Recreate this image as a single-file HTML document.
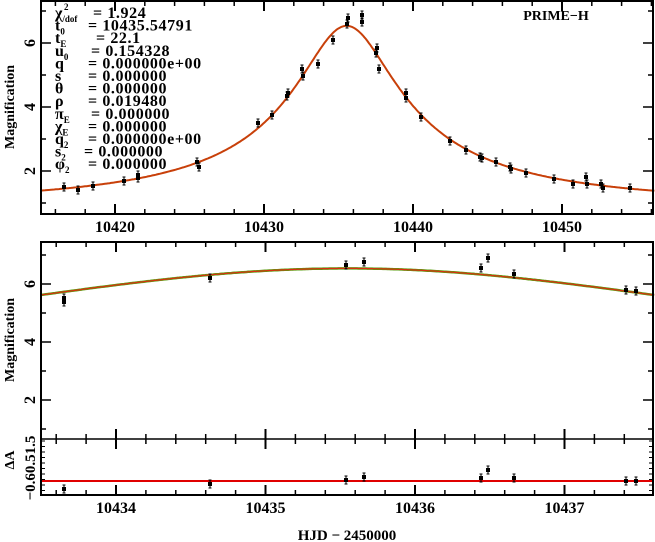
<!DOCTYPE html><html><head><style>body{margin:0;background:#fff}svg{display:block}text{font-family:"Liberation Serif",serif;font-weight:bold;fill:#000}</style></head><body>
<svg id="s" width="655" height="542" xmlns="http://www.w3.org/2000/svg"></svg>
<script>
const s=document.getElementById('s');let h='';
const A=t=>{const u=Math.sqrt(0.154328**2+((t-10435.54791)/22.1)**2);return (u*u+2)/(u*Math.sqrt(u*u+4));};
const L=41,R=653;
const x1=t=>115+(t-10420)*14.9, y1=m=>171-(m-2)*32;
const x2=t=>116+(t-10434)*149.5, y2=m=>284-(m-6)*29;
function curve(xf,yf,t0,t1){let p='';for(let i=0;i<=400;i++){const t=t0+(t1-t0)*i/400;p+=(i?'L':'M')+xf(t).toFixed(1)+','+yf(A(t)).toFixed(1);}return p;}
h+=`<path d="${curve(x1,y1,10415,10456.2)}" fill="none" stroke="#c8400a" stroke-width="2"/>`;
h+=`<path d="${curve(x2,y2,10433.5,10437.6)}" fill="none" stroke="#5a9c10" stroke-width="2.5"/>`;
h+=`<path d="${curve(x2,y2,10433.5,10437.6)}" fill="none" stroke="#d83010" stroke-width="1.2"/>`;
h+=`<line x1="${L}" y1="481" x2="${R}" y2="481" stroke="#e00000" stroke-width="2"/>`;
h+=`<rect x="${L}" y="1" width="${R-L}" height="213" fill="none" stroke="#000" stroke-width="2"/>`;
h+=`<rect x="${L}" y="242" width="${R-L}" height="253" fill="none" stroke="#000" stroke-width="2"/>`;
h+=`<line x1="${L}" y1="439" x2="${R}" y2="439" stroke="#000" stroke-width="1.5"/>`;
for(let t=10416;t<=10456;t+=2){const x=x1(t),big=t%10==0,l=big?10:5;h+=`<line x1="${x}" y1="214" x2="${x}" y2="${214-l}" stroke="#000" stroke-width="${big?2:1.5}"/><line x1="${x}" y1="1" x2="${x}" y2="${1+l}" stroke="#000" stroke-width="${big?2:1.5}"/>`;}
for(let m=1;m<=7;m++){const y=y1(m),l=m%2==0?10:5;h+=`<line x1="${L}" y1="${y}" x2="${L+l}" y2="${y}" stroke="#000" stroke-width="1.5"/><line x1="${R}" y1="${y}" x2="${R-l}" y2="${y}" stroke="#000" stroke-width="1.5"/>`;}
[10420,10430,10440,10450].forEach(t=>h+=`<text x="${x1(t)}" y="232" font-size="16" text-anchor="middle">${t}</text>`);
[2,4,6].forEach(m=>h+=`<text transform="translate(35,${y1(m)}) rotate(-90)" font-size="16" text-anchor="middle">${m}</text>`);
for(let t=10433.6;t<=10437.6;t+=0.2){const tt=Math.round(t*10)/10;const x=x2(tt),big=Math.abs(tt-Math.round(tt))<1e-6,l=big?10:5;
 h+=`<line x1="${x}" y1="242" x2="${x}" y2="${242+l}" stroke="#000" stroke-width="${big?2:1.5}"/><line x1="${x}" y1="439" x2="${x}" y2="${439-l}" stroke="#000" stroke-width="${big?2:1.5}"/><line x1="${x}" y1="439" x2="${x}" y2="${439+l}" stroke="#000" stroke-width="${big?2:1.5}"/><line x1="${x}" y1="495" x2="${x}" y2="${495-l}" stroke="#000" stroke-width="${big?2:1.5}"/>`;}
for(let m=1;m<=7;m++){const y=y2(m),l=m%2==0?10:5;h+=`<line x1="${L}" y1="${y}" x2="${L+l}" y2="${y}" stroke="#000" stroke-width="1.5"/><line x1="${R}" y1="${y}" x2="${R-l}" y2="${y}" stroke="#000" stroke-width="1.5"/>`;}
for(let y=441;y<495;y+=5.5){h+=`<line x1="${L}" y1="${y}" x2="${L+4}" y2="${y}" stroke="#000"/><line x1="${R}" y1="${y}" x2="${R-4}" y2="${y}" stroke="#000"/>`;}
[10434,10435,10436,10437].forEach(t=>h+=`<text x="${x2(t)}" y="513" font-size="16" text-anchor="middle">${t}</text>`);
[2,4,6].forEach(m=>h+=`<text transform="translate(35,${y2(m)}) rotate(-90)" font-size="16" text-anchor="middle">${m}</text>`);
h+=`<text transform="translate(35,468) rotate(-90)" font-size="15" text-anchor="middle">−0.60.51.5</text>`;
h+=`<text transform="translate(14,107) rotate(-90)" font-size="14" text-anchor="middle">Magnification</text>`;
h+=`<text transform="translate(14,340) rotate(-90)" font-size="14" text-anchor="middle">Magnification</text>`;
h+=`<text transform="translate(14,460) rotate(-90)" font-size="14" text-anchor="middle">ΔA</text>`;
h+=`<text x="347" y="540" font-size="15" text-anchor="middle" font-weight="normal">HJD − 2450000</text>`;
h+=`<text x="556" y="20" font-size="14" text-anchor="middle">PRIME−H</text>`;
const P=[['χ','/dof','= 1.924'],['t','0','= 10435.54791'],['t','E','= 22.1'],['u','0','= 0.154328'],['q','','= 0.000000e+00'],['s','','= 0.000000'],['θ','','= 0.000000'],['ρ','','= 0.019480'],['π','E','= 0.000000'],['χ','E','= 0.000000'],['q','2','= 0.000000e+00'],['s','2','= 0.000000'],['φ','2','= 0.000000']];
const X=[93,88,96,91,88,88,88,88,91,88,88,84,88];
P.forEach((p,i)=>{const y=18+i*12.6;h+=`<text x="55" y="${y}" font-size="16">${p[0]}<tspan font-size="9" dy="4">${p[1]}</tspan></text><text x="${X[i]}" y="${y}" font-size="16" letter-spacing="0.6">${p[2]}</text>`;});
h+=`<text x="64" y="10" font-size="9">2</text>`;
const d1=[[64,187],[78,190],[93,186],[124,181],[138,178],[138,175],[197,162],[199,167],[258,123],[272,115],[287,96],[288,93],[302,69],[303,76],[318,64],[333,40],[347,24],[348,18],[362,22],[362,15],[376,53],[377,48],[379,69],[406,93],[406,98],[421,117],[450,141],[466,150],[480,157],[482,158],[496,162],[510,167],[511,169],[526,173],[554,179],[573,184],[587,184],[586,177],[601,184],[603,188],[630,188]];
const d2=[[64,302],[64,298],[210,278],[346,265],[364,262],[481,268],[488,258],[514,274],[626,290],[636,291]];
const d3=[[64,489],[210,484],[346,480],[364,477],[481,478],[488,470],[514,478],[626,481],[636,481]];
[...d1,...d2,...d3].forEach(([x,y])=>{h+=`<line x1="${x}" y1="${y-4}" x2="${x}" y2="${y+4}" stroke="#000"/><line x1="${x-1.5}" y1="${y-4}" x2="${x+1.5}" y2="${y-4}" stroke="#000"/><line x1="${x-1.5}" y1="${y+4}" x2="${x+1.5}" y2="${y+4}" stroke="#000"/><rect x="${x-2}" y="${y-2}" width="4" height="4" fill="#000"/>`;});
s.innerHTML=h;
</script></body></html>
